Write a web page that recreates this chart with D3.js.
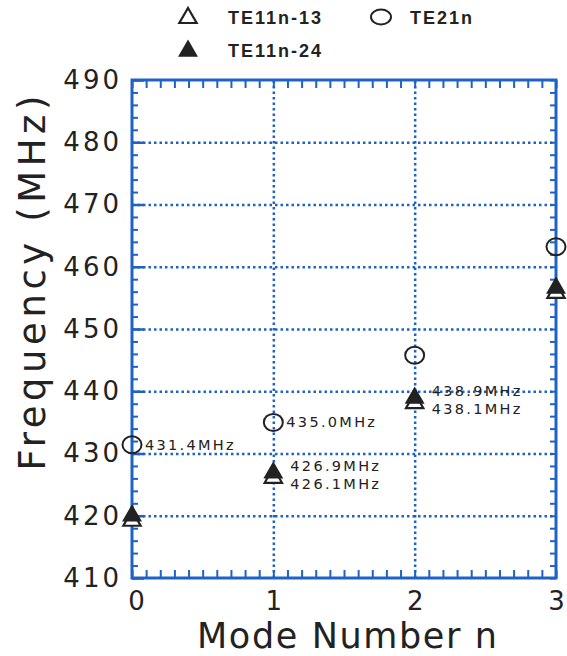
<!DOCTYPE html>
<html lang="en">
<head>
    <meta charset="UTF-8">
    <title>Mode Number vs Frequency</title>
    <style>
        body { margin: 0; background: #fff; }
        .tick text { font-family: 'DejaVu Sans', sans-serif; fill: #222; }
        .pt-label { font-family: 'DejaVu Sans', sans-serif; font-size: 14.5px; fill: #222; letter-spacing: 2.3px; }
        .legend text { font-family: 'Liberation Sans', Arial, sans-serif; font-weight: bold; font-size: 18px; fill: #222; letter-spacing: 2px; }
    </style>
</head>
<body>
    <script src="https://d3js.org/d3.v7.min.js"></script>
    <script>
        // data
        const modes = [0, 1, 2, 3];
        const te11n13 = [419.2, 426.1, 438.1, 455.8];   // open triangles
        const te11n24 = [420.0, 426.9, 438.9, 456.6];   // filled triangles
        const te21n = [431.4, 435.0, 445.8, 463.2];     // circles
        const circleLabelled = [0, 1];
        const triangleLabelled = [1, 2];
        const xTicks = [0, 1, 2, 3];
        const yTicks = [410, 420, 430, 440, 450, 460, 470, 480, 490];

        const blue = '#1f62c6';
        const ink = '#222';

        const W = 567, H = 656;
        const margin = { left: 132, right: 556, top: 80, bottom: 578 };

        const svg = d3.select('body').append('svg')
            .attr('width', W)
            .attr('height', H);

        const x = d3.scaleLinear().domain([0, 3]).range([margin.left, margin.right]);
        const y = d3.scaleLinear().domain([410, 490]).range([margin.bottom, margin.top]);
        const plotW = margin.right - margin.left;
        const plotH = margin.bottom - margin.top;

        // dotted grid lines at the inner major ticks
        svg.append('g')
            .attr('transform', `translate(${margin.left},0)`)
            .call(d3.axisLeft(y).tickValues(yTicks.slice(1, -1)).tickSize(-plotW).tickFormat(''))
            .call(g => g.select('.domain').remove())
            .selectAll('line')
            .attr('stroke', blue).attr('stroke-width', 2.5).attr('stroke-dasharray', '2.5,3');
        svg.append('g')
            .attr('transform', `translate(0,${margin.bottom})`)
            .call(d3.axisBottom(x).tickValues(xTicks.slice(1, -1)).tickSize(-plotH).tickFormat(''))
            .call(g => g.select('.domain').remove())
            .selectAll('line')
            .attr('stroke', blue).attr('stroke-width', 2.5).attr('stroke-dasharray', '2.5,3');

        // minor ticks, pointing inward on all four sides
        const xMinor = d3.range(0, 3.001, 0.1);
        const yMinor = d3.range(410, 490.001, 2);
        const minorAxes = [
            [d3.axisBottom(x).tickValues(xMinor).tickSize(-8), `translate(0,${margin.bottom})`],
            [d3.axisTop(x).tickValues(xMinor).tickSize(-8), `translate(0,${margin.top})`],
            [d3.axisLeft(y).tickValues(yMinor).tickSize(-6), `translate(${margin.left},0)`],
            [d3.axisRight(y).tickValues(yMinor).tickSize(-6), `translate(${margin.right},0)`]
        ];
        minorAxes.forEach(([ax, tr]) => {
            svg.append('g')
                .attr('transform', tr)
                .call(ax.tickFormat(''))
                .call(g => g.select('.domain').remove())
                .selectAll('line')
                .attr('stroke', blue).attr('stroke-width', 2);
        });

        // longer solid stubs where the major lines meet the left frame
        svg.append('g')
            .attr('transform', `translate(${margin.left},0)`)
            .call(d3.axisLeft(y).tickValues(yTicks).tickSize(-12).tickFormat(''))
            .call(g => g.select('.domain').remove())
            .selectAll('line')
            .attr('stroke', blue).attr('stroke-width', 2.5);

        // frame
        svg.append('rect')
            .attr('x', margin.left).attr('y', margin.top)
            .attr('width', plotW).attr('height', plotH)
            .attr('fill', 'none').attr('stroke', blue).attr('stroke-width', 3);

        // tick labels
        svg.append('g')
            .attr('transform', `translate(0,${margin.bottom})`)
            .call(d3.axisBottom(x).tickValues(xTicks).tickSize(0).tickPadding(14).tickFormat(d3.format('d')))
            .call(g => g.select('.domain').remove())
            .selectAll('text')
            .attr('font-size', 26)
            .attr('dx', (d, i) => i === 0 ? 4 : 0);
        svg.append('g')
            .attr('transform', `translate(${margin.left},0)`)
            .call(d3.axisLeft(y).tickValues(yTicks).tickSize(0).tickPadding(10).tickFormat(d3.format('d')))
            .call(g => g.select('.domain').remove())
            .selectAll('text')
            .attr('font-size', 26)
            .attr('letter-spacing', 3);

        // axis titles
        svg.append('text')
            .attr('transform', 'translate(45,283) rotate(-90)')
            .attr('text-anchor', 'middle')
            .attr('font-family', "'DejaVu Sans', sans-serif")
            .attr('font-size', 37)
            .attr('fill', ink)
            .attr('textLength', 375)
            .attr('lengthAdjust', 'spacing')
            .text('Frequency (MHz)');
        svg.append('text')
            .attr('x', 347).attr('y', 648)
            .attr('text-anchor', 'middle')
            .attr('font-family', "'DejaVu Sans', sans-serif")
            .attr('font-size', 35)
            .attr('fill', ink)
            .attr('textLength', 300)
            .attr('lengthAdjust', 'spacing')
            .text('Mode Number n');

        // markers
        const tri = d3.symbol().type(d3.symbolTriangle).size(130);
        const pts = svg.append('g');

        pts.selectAll('.open-tri')
            .data(modes)
            .join('path')
            .attr('class', 'open-tri')
            .attr('d', tri)
            .attr('transform', (d, i) => `translate(${x(d)},${y(te11n13[i])})`)
            .attr('fill', '#fff').attr('stroke', ink).attr('stroke-width', 2.2);

        pts.selectAll('.fill-tri')
            .data(modes)
            .join('path')
            .attr('class', 'fill-tri')
            .attr('d', tri)
            .attr('transform', (d, i) => `translate(${x(d)},${y(te11n24[i])})`)
            .attr('fill', ink).attr('stroke', ink).attr('stroke-width', 1.5);

        pts.selectAll('.circ')
            .data(modes)
            .join('ellipse')
            .attr('class', 'circ')
            .attr('cx', d => x(d))
            .attr('cy', (d, i) => y(te21n[i]))
            .attr('rx', 9.5).attr('ry', 8.5)
            .attr('fill', 'none').attr('stroke', ink).attr('stroke-width', 2);

        // value labels
        const fmt = v => d3.format('.1f')(v) + 'MHz';
        const labels = svg.append('g');
        labels.selectAll('.c-lab')
            .data(circleLabelled)
            .join('text')
            .attr('class', 'pt-label c-lab')
            .attr('x', i => x(modes[i]) + 13)
            .attr('y', i => y(te21n[i]))
            .attr('dy', '0.35em')
            .text(i => fmt(te21n[i]));
        labels.selectAll('.f-lab')
            .data(triangleLabelled)
            .join('text')
            .attr('class', 'pt-label f-lab')
            .attr('x', i => x(modes[i]) + 17)
            .attr('y', i => y(te11n24[i]) - 7)
            .attr('dy', '0.35em')
            .text(i => fmt(te11n24[i]));
        labels.selectAll('.o-lab')
            .data(triangleLabelled)
            .join('text')
            .attr('class', 'pt-label o-lab')
            .attr('x', i => x(modes[i]) + 17)
            .attr('y', i => y(te11n13[i]) + 6)
            .attr('dy', '0.35em')
            .text(i => fmt(te11n13[i]));

        // legend
        const legend = svg.append('g').attr('class', 'legend');
        legend.append('path').attr('d', tri).attr('transform', 'translate(188,18)')
            .attr('fill', '#fff').attr('stroke', ink).attr('stroke-width', 2.2);
        legend.append('text').attr('x', 228).attr('y', 24).text('TE11n-13');
        legend.append('ellipse').attr('cx', 381).attr('cy', 17).attr('rx', 10).attr('ry', 7.5)
            .attr('fill', 'none').attr('stroke', ink).attr('stroke-width', 2);
        legend.append('text').attr('x', 410).attr('y', 24).text('TE21n');
        legend.append('path').attr('d', tri).attr('transform', 'translate(188,51)')
            .attr('fill', ink).attr('stroke', ink).attr('stroke-width', 1.5);
        legend.append('text').attr('x', 228).attr('y', 57).text('TE11n-24');
    </script>
</body>
</html>
